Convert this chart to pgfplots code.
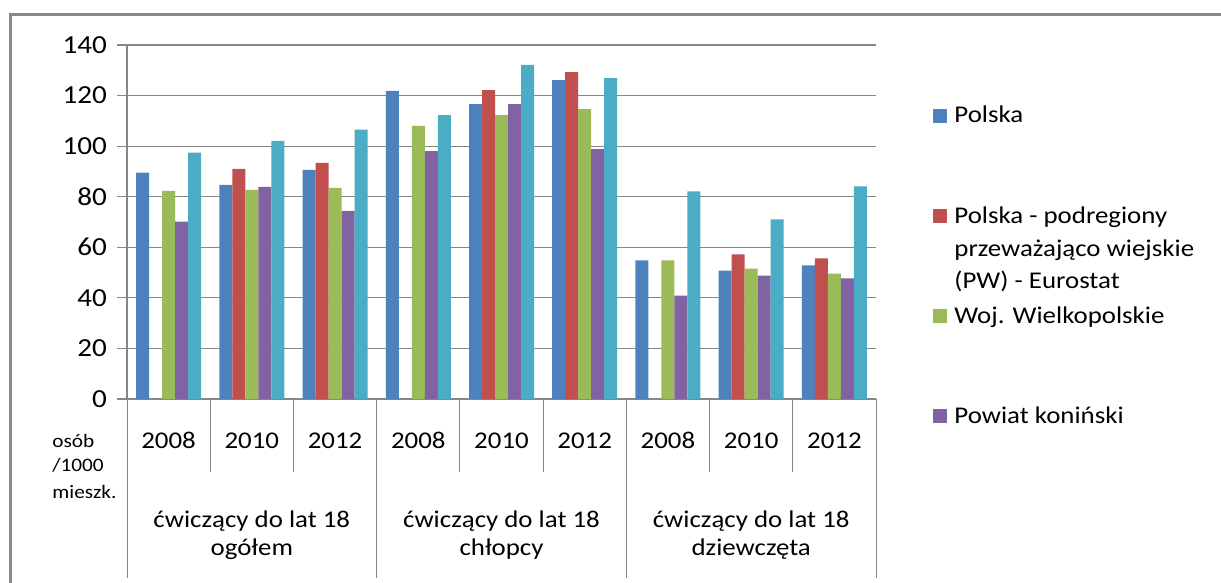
\documentclass[border=0pt]{standalone}
\usepackage{fontspec}
\setmainfont{Carlito}[FakeStretch=1.12]
\usepackage{pgfplots}
\pgfplotsset{compat=1.18}

\definecolor{cBlue}{HTML}{4F81BD}
\definecolor{cRed}{HTML}{C0504D}
\definecolor{cGreen}{HTML}{9BBB59}
\definecolor{cPurple}{HTML}{8064A2}
\definecolor{cCyan}{HTML}{4BACC6}
\definecolor{gridgray}{HTML}{868686}
\definecolor{framegray}{HTML}{8A8A8A}

\newcommand{\lbl}{\fontsize{12}{14}\selectfont}
\newcommand{\smalllbl}{\fontsize{9.5}{11}\selectfont}

\begin{document}
\begin{tikzpicture}
\useasboundingbox (0pt,0pt) rectangle (610.5pt,-291.5pt);
\begin{axis}[
    at={(63.5pt,-199.5pt)}, anchor=south west,
    scale only axis, width=374.5pt, height=177pt,
    xmin=-0.5, xmax=8.5, ymin=0, ymax=140,
    axis lines*=left,
    xtick=\empty,
    ytick={0,20,...,140},
    ymajorgrids, grid style={gridgray, line width=0.6pt},
    tick align=outside, major tick length=5pt,
    ytick style={gridgray, line width=0.6pt},
    y axis line style={gridgray, line width=0.6pt},
    x axis line style={gridgray, line width=1.1pt},
    yticklabel style={font=\fontsize{13}{15}\selectfont, xshift=-1.5pt, /pgf/number format/assume math mode=true},
    ybar=0pt, bar width=6.5pt,
    every axis plot/.append style={draw=none},
]
% Polska
\addplot[fill=cBlue] coordinates {(0,89.5) (1,84.7) (2,90.6) (3,121.9) (4,116.6) (5,126.1) (6,54.8) (7,50.8) (8,52.8)};
% Polska - podregiony PW (no 2008 data)
\addplot[fill=cRed] coordinates {(1,91.0) (2,93.4) (4,122.2) (5,129.3) (7,57.2) (8,55.6)};
% Woj. Wielkopolskie
\addplot[fill=cGreen] coordinates {(0,82.3) (1,82.7) (2,83.5) (3,108.0) (4,112.3) (5,114.6) (6,54.8) (7,51.6) (8,49.6)};
% Powiat koninski
\addplot[fill=cPurple] coordinates {(0,70.1) (1,83.9) (2,74.4) (3,98.0) (4,116.6) (5,98.8) (6,40.9) (7,48.8) (8,47.7)};
% fifth series, not in legend
\addplot[fill=cCyan] coordinates {(0,97.4) (1,102.1) (2,106.5) (3,112.3) (4,132.1) (5,126.9) (6,82.1) (7,71.0) (8,84.1)};
\end{axis}

\begin{scope}[x=0.5pt, y=-0.5pt]
% outer frame (top and left only)
\draw[framegray, line width=1.5pt] (1225,15) -- (10,15) -- (10,590);
% category separators
\foreach \k in {1,2,4,5,7,8}
  \draw[gridgray, line width=0.5pt] (127+83.222*\k,399) -- (127+83.222*\k,472);
\foreach \k in {0,3,6,9}
  \draw[gridgray, line width=0.5pt] (127+83.222*\k,399) -- (127+83.222*\k,578);
% years
\foreach \k/\yr in {0/2008,1/2010,2/2012,3/2008,4/2010,5/2012,6/2008,7/2010,8/2012}
  \node[anchor=base, inner sep=0pt, font=\lbl] at (127+83.222*\k+41.6,448) {\yr};
% groups
\node[anchor=base, inner sep=0pt, font=\lbl] at (251.8,527) {ćwiczący do lat 18};
\node[anchor=base, inner sep=0pt, font=\lbl] at (251.8,555) {ogółem};
\node[anchor=base, inner sep=0pt, font=\lbl] at (501.5,527) {ćwiczący do lat 18};
\node[anchor=base, inner sep=0pt, font=\lbl] at (501.5,555) {chłopcy};
\node[anchor=base, inner sep=0pt, font=\lbl] at (751.2,527) {ćwiczący do lat 18};
\node[anchor=base, inner sep=0pt, font=\lbl] at (751.2,555) {dziewczęta};
% unit label
\node[anchor=base west, inner sep=0pt, font=\smalllbl] at (52,447) {osób};
\node[anchor=base west, inner sep=0pt, font=\smalllbl] at (52,471) {/1000};
\node[anchor=base west, inner sep=0pt, font=\smalllbl] at (52,498) {mieszk.};
% legend
\fill[cBlue] (933,109) rectangle (947,123);
\node[anchor=base west, inner sep=0pt, font=\lbl] at (954,123) {Polska};
\fill[cRed] (933,209) rectangle (947,223);
\node[anchor=base west, inner sep=0pt, font=\lbl] at (954,223) {Polska - podregiony};
\node[anchor=base west, inner sep=0pt, font=\lbl] at (954,256) {przeważająco wiejskie};
\node[anchor=base west, inner sep=0pt, font=\lbl] at (954,288) {(PW) - Eurostat};
\fill[cGreen] (933,309) rectangle (947,323);
\node[anchor=base west, inner sep=0pt, font=\lbl] at (954,323) {Woj. Wielkopolskie};
\fill[cPurple] (933,409) rectangle (947,423);
\node[anchor=base west, inner sep=0pt, font=\lbl] at (954,423) {Powiat koniński};
\end{scope}
\end{tikzpicture}
\end{document}
